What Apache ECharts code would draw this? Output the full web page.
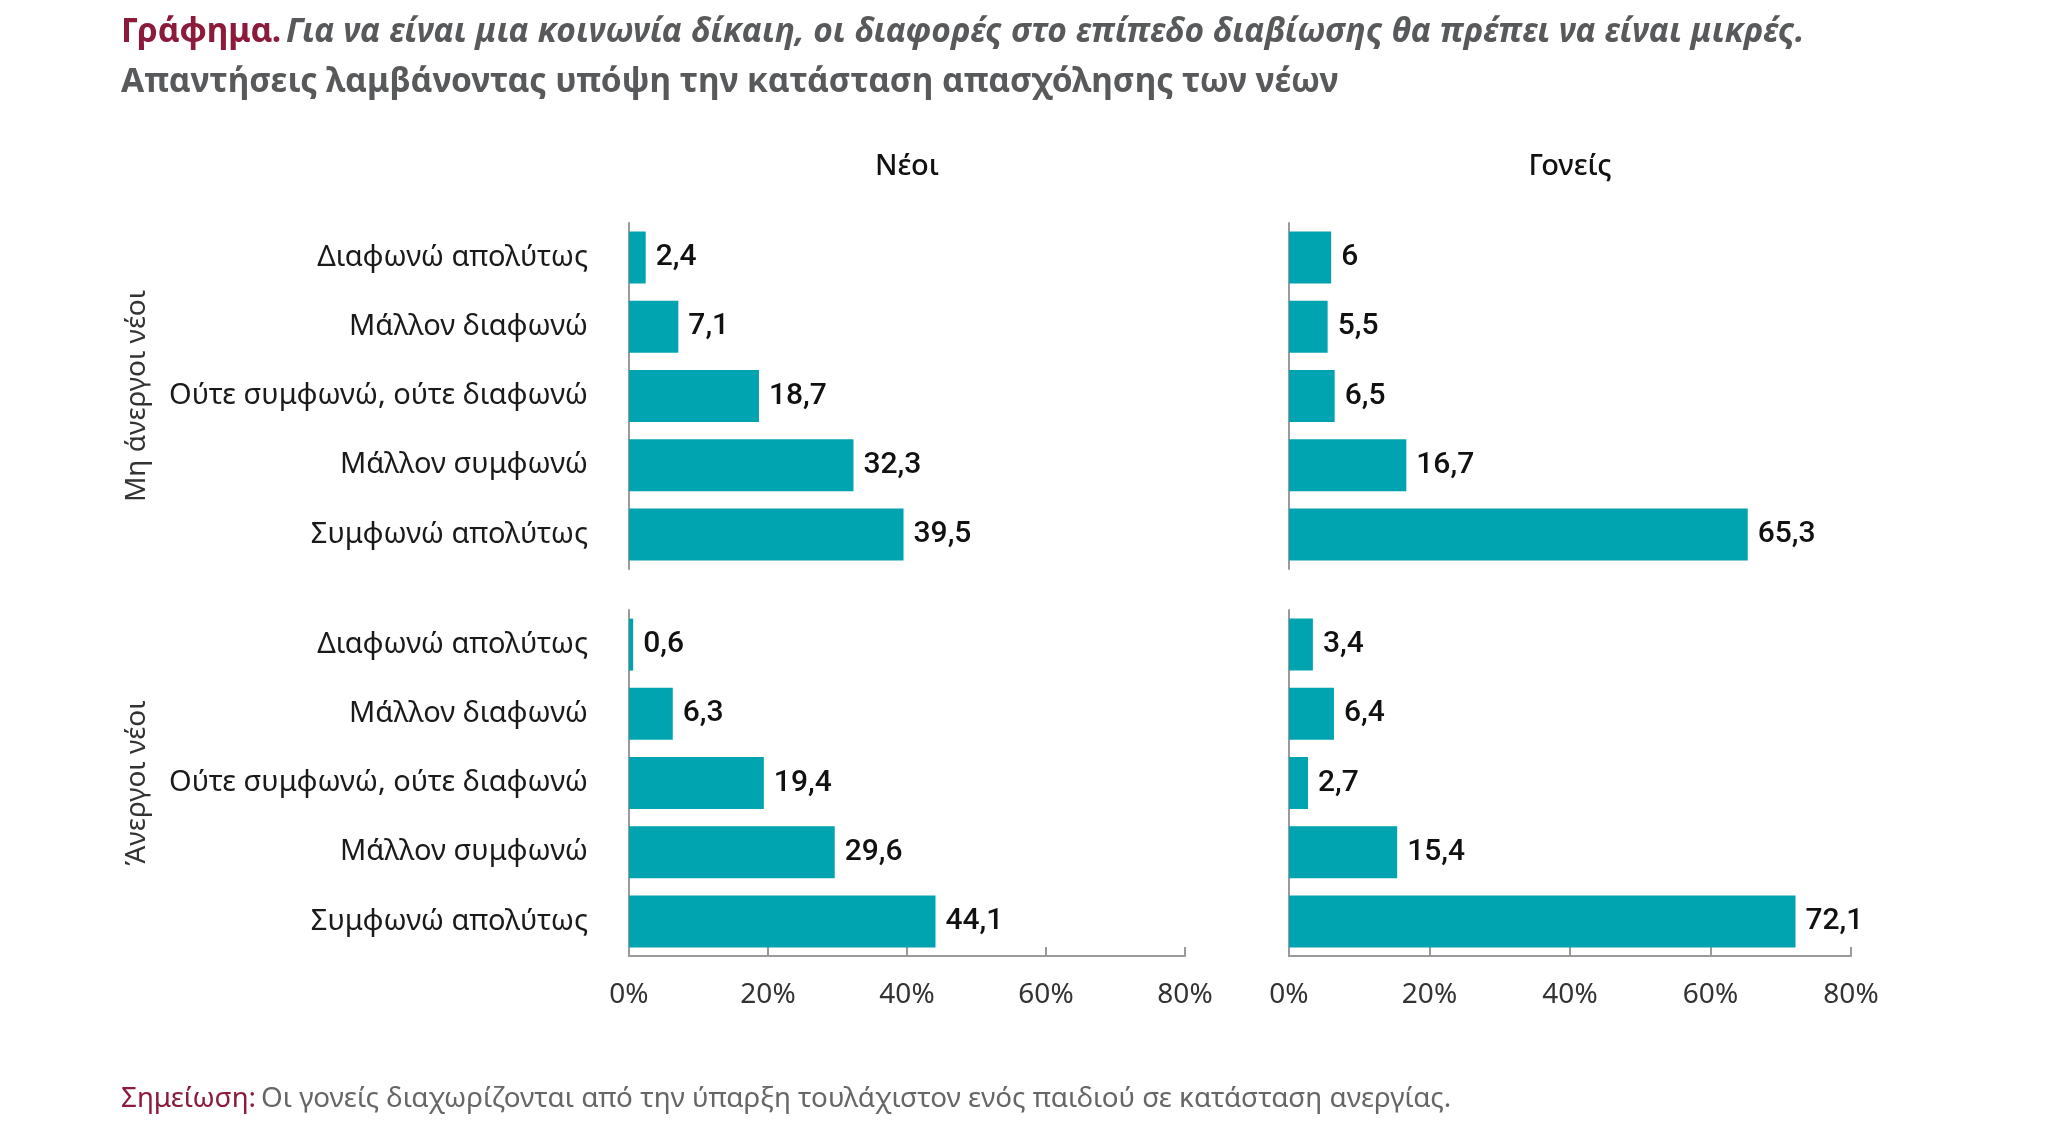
<html><head><meta charset='utf-8'>
<script src='https://cdn.jsdelivr.net/npm/echarts@6/dist/echarts.min.js'></script>
<style>
html, body { margin: 0; padding: 0; background: #fff; }
#main { width: 2048px; height: 1136px; }
</style>
</head><body>
<div id='main'></div>
<script>
// κατηγορίες απαντήσεων (από πάνω προς τα κάτω)
var categories = ['Διαφωνώ απολύτως', 'Μάλλον διαφωνώ', 'Ούτε συμφωνώ, ούτε διαφωνώ', 'Μάλλον συμφωνώ', 'Συμφωνώ απολύτως'];
var columns = ['Νέοι', 'Γονείς'];
var groups = ['Μη άνεργοι νέοι', 'Άνεργοι νέοι'];
var xTicks = [0, 20, 40, 60, 80];

// τιμές (%)
var neoiMiAnergoi = [2.4, 7.1, 18.7, 32.3, 39.5];
var goneisMiAnergoi = [6, 5.5, 6.5, 16.7, 65.3];
var neoiAnergoi = [0.6, 6.3, 19.4, 29.6, 44.1];
var goneisAnergoi = [3.4, 6.4, 2.7, 15.4, 72.1];

var barColor = '#00A4B0';
var axisGrey = '#9a9a9a';
var red = '#8B1A3B';
var grey = '#58595B';
var font = "'Noto Sans', sans-serif";

var myChart = echarts.init(document.getElementById('main'));

var grids = [
    { left: 629, top: 223, width: 556, height: 346 },
    { left: 1289, top: 223, width: 562, height: 346 },
    { left: 629, top: 610, width: 556, height: 346 },
    { left: 1289, top: 610, width: 562, height: 346 }
];
var panelData = [neoiMiAnergoi, goneisMiAnergoi, neoiAnergoi, goneisAnergoi];

var xAxes = [], yAxes = [], series = [];
for (var i = 0; i < 4; i++) {
    var bottom = i >= 2;
    var leftCol = i % 2 == 0;
    xAxes.push({
        type: 'value', gridIndex: i, min: xTicks[0], max: xTicks[xTicks.length - 1], interval: 20,
        show: bottom,
        axisLine: { show: true, lineStyle: { color: axisGrey, width: 2 } },
        axisTick: { show: true, inside: true, length: 9, lineStyle: { color: axisGrey, width: 2 } },
        splitLine: { show: false },
        axisLabel: { margin: 25, fontSize: 28, fontFamily: font, color: '#333', formatter: '{value}%' }
    });
    yAxes.push({
        type: 'category', gridIndex: i, data: categories, inverse: true,
        axisLine: { show: true, lineStyle: { color: axisGrey, width: 2 } },
        axisTick: { show: false },
        axisLabel: { show: leftCol, margin: 41, fontSize: 29, fontFamily: font, color: '#1a1a1a' },
        name: leftCol ? groups[bottom ? 1 : 0] : '',
        nameLocation: 'middle', nameRotate: 90, nameGap: 478,
        nameTextStyle: { fontSize: 28, fontFamily: font, color: '#333' }
    });
    series.push({
        type: 'bar', xAxisIndex: i, yAxisIndex: i, data: panelData[i],
        barWidth: 52,
        itemStyle: { color: barColor },
        label: {
            show: true, position: 'right', distance: 10,
            fontSize: 30, fontFamily: "Roboto, sans-serif", fontWeight: 500, color: '#111',
            formatter: function (p) { return String(p.value).replace('.', ','); }
        },
        silent: true
    });
}

// τίτλοι στηλών στο κέντρο κάθε πλέγματος
var colTitles = columns.map(function (c, k) {
    return {
        type: 'text',
        x: grids[k].left + grids[k].width / 2, y: 167,
        style: {
            text: c, fontSize: 29, fontWeight: 500, fontFamily: font, fill: '#111',
            align: 'center', verticalAlign: 'middle'
        }
    };
});

var option = {
    backgroundColor: '#fff',
    animation: false,
    title: [
        {
            left: 116, top: 2,
            text: '{r|Γράφημα.} {i|Για να είναι μια κοινωνία δίκαιη, οι διαφορές στο επίπεδο διαβίωσης θα πρέπει να είναι μικρές.}\n{b|Απαντήσεις λαμβάνοντας υπόψη την κατάσταση απασχόλησης των νέων}',
            textStyle: {
                rich: {
                    r: { fontSize: 33.5, fontWeight: 'bold', color: red, fontFamily: font, lineHeight: 50 },
                    i: { fontSize: 33.5, fontWeight: 'bold', fontStyle: 'italic', color: grey, fontFamily: font, lineHeight: 50 },
                    b: { fontSize: 33.5, fontWeight: 'bold', color: grey, fontFamily: font, lineHeight: 50 }
                }
            }
        },
        {
            left: 116, top: 1080,
            text: '{r|Σημείωση:} {g|Οι γονείς διαχωρίζονται από την ύπαρξη τουλάχιστον ενός παιδιού σε κατάσταση ανεργίας.}',
            textStyle: {
                fontWeight: 'normal',
                rich: {
                    r: { fontSize: 27.8, fontWeight: 'normal', color: red, fontFamily: font },
                    g: { fontSize: 27.8, fontWeight: 'normal', color: '#666', fontFamily: font }
                }
            }
        }
    ],
    graphic: colTitles,
    grid: grids,
    xAxis: xAxes,
    yAxis: yAxes,
    series: series
};
myChart.setOption(option);
</script>
</body></html>
